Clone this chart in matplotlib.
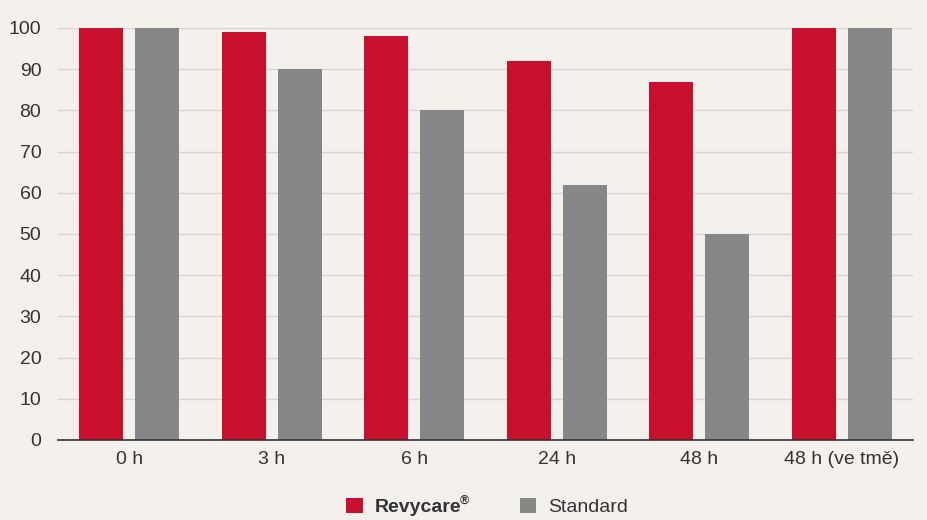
import matplotlib
matplotlib.use("Agg")
import matplotlib.pyplot as plt
import numpy as np
from matplotlib.patches import Patch

categories = ["0 h", "3 h", "6 h", "24 h", "48 h", "48 h (ve tmě)"]
revycare = [100, 99, 98, 92, 87, 100]
standard = [100, 90, 80, 62, 50, 100]
yticks = [0, 10, 20, 30, 40, 50, 60, 70, 80, 90, 100]

RED = "#C8102E"
GRAY = "#878787"
BG = "#F4F1ED"

plt.rcParams["font.family"] = ["Liberation Sans", "DejaVu Sans"]

fig = plt.figure(figsize=(9.28, 5.2), dpi=100, facecolor=BG)
ax = fig.add_axes([58/928, 1-440/520, (913-58)/928, (440-28)/520])
ax.set_facecolor(BG)

x = np.arange(len(categories))
w = 0.31
off = 0.196
ax.bar(x - off, revycare, w, color=RED, zorder=3)
ax.bar(x + off, standard, w, color=GRAY, zorder=3)

ax.set_xlim(-0.5, len(categories) - 0.5)
ax.set_ylim(0, 100)
ax.set_yticks(yticks)
ax.set_xticks(x)
ax.set_xticklabels(categories)
ax.tick_params(axis="both", length=0, labelsize=14, colors="#333333")
ax.tick_params(axis="y", pad=12)
ax.tick_params(axis="x", pad=8)
ax.yaxis.grid(True, color="#D8D4D0", linewidth=1.0, zorder=0)
for s in ["left", "right", "top"]:
    ax.spines[s].set_visible(False)
ax.spines["bottom"].set_color("#333333")
ax.spines["bottom"].set_linewidth(1.2)
ax.spines["bottom"].set_zorder(4)

handles = [Patch(facecolor=RED), Patch(facecolor=GRAY)]
leg = fig.legend(handles, ["Revycare", "Standard"], loc="center",
                 bbox_to_anchor=(487/928, 1-507/520), ncol=2, frameon=False,
                 fontsize=14, handlelength=0.85, handleheight=0.85,
                 handletextpad=0.6, columnspacing=3.0)
texts = leg.get_texts()
texts[0].set_fontweight("bold")
for t in texts:
    t.set_color("#333333")

fig.canvas.draw()
bb = texts[0].get_window_extent()
fig.text((bb.x1 - 1) / 928, (bb.y1 - 8) / 520, "®", fontsize=9, color="#333333",
         fontweight="bold", ha="left", va="bottom")

fig.savefig("out.png", dpi=100, facecolor=BG)
